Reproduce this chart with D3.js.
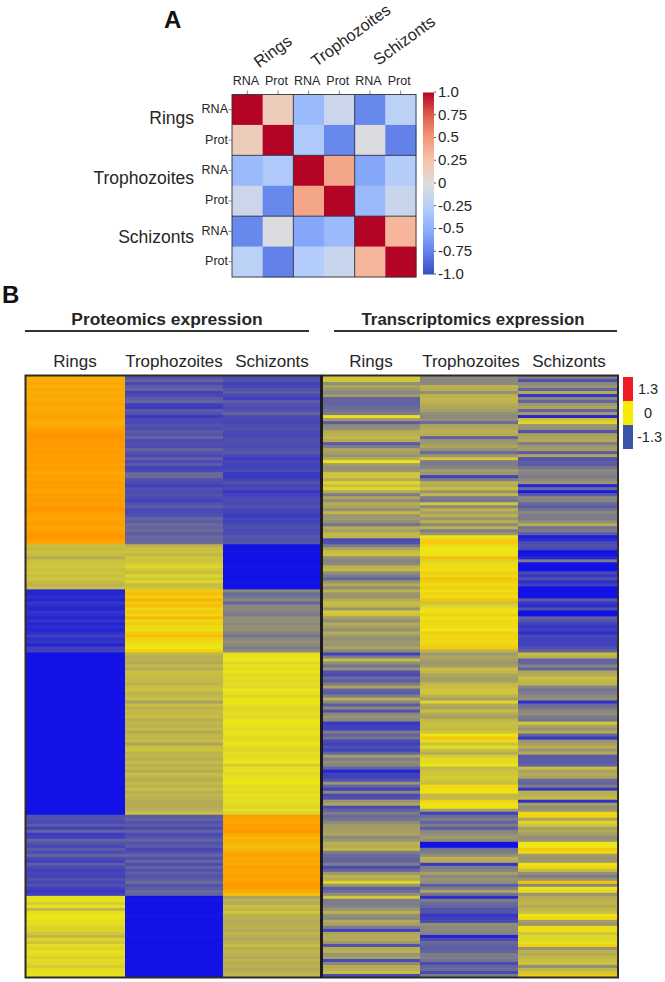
<!DOCTYPE html>
<html><head><meta charset="utf-8">
<script src="https://cdn.jsdelivr.net/npm/d3@7"></script>
<style>html,body{margin:0;padding:0;background:#fff}svg{display:block}text{font-family:"Liberation Sans",Arial,sans-serif;fill:#262626}</style>
</head><body><svg id="c" width="665" height="982"></svg>
<script>
// Panel A
const omics = ["RNA","Prot","RNA","Prot","RNA","Prot"];
const stages = ["Rings","Trophozoites","Schizonts"];
const corr = [
 [1,.17,-.42,-.12,-.72,-.22],
 [.17,1,-.3,-.72,-.02,-.75],
 [-.42,-.3,1,.42,-.55,-.28],
 [-.12,-.72,.42,1,-.42,-.14],
 [-.72,-.02,-.55,-.42,1,.33],
 [-.22,-.75,-.28,-.14,.33,1]];
const corrTicks = [1,.75,.5,.25,0,-.25,-.5,-.75,-1];
const corrTickLabels = ["1.0","0.75","0.5","0.25","0","-0.25","-0.5","-0.75","-1.0"];
const coolStops = [-1,-.75,-.5,-.25,0,.25,.5,.75,1];
const coolColors = ["#3b4cc0","#6282ea","#8db0fe","#b8d0f9","#dddcdc","#f5c4ac","#f4987a","#dc5e4b","#b40426"];

// Panel B: scaled expression, one list per sample column, top row to bottom row
const protRings = [
 .42,.42,.45,.4,.45,.42,.45,.42,.45,.48,.42,.45,.48,.5,.45,.42,.45,.48,.55,.58,.58,.55,.52,.55,.5,.55,.5,.52,.55,.48,.55,.5,.45,.52,.48,.55,.5,.52,.45,.55,.5,.55,.5,.55,.58,.52,.5,.45,.52,.55,.45,.52,.55,.58,.52,.45,
 -.15,-.2,-.12,-.15,-.28,-.12,-.12,-.1,-.15,-.1,-.15,-.1,-.18,-.25,-.15,
 -1.2,-1.2,-1.15,-1.2,-1.1,-1.15,-1.2,-1.12,-1.15,-1.2,-1.12,-1.2,-1.15,-1.2,-1.15,-1.05,-1.15,-1.1,-1.2,-1.05,-1.05,
 -1.3,-1.3,-1.3,-1.3,-1.3,-1.3,-1.3,-1.3,-1.3,-1.3,-1.3,-1.3,-1.3,-1.3,-1.3,-1.3,-1.3,-1.3,-1.3,-1.3,-1.3,-1.3,-1.3,-1.3,-1.3,-1.3,-1.3,-1.3,-1.3,-1.3,-1.3,-1.3,-1.3,-1.3,-1.3,-1.3,-1.3,-1.3,-1.3,-1.3,-1.3,-1.3,-1.3,-1.3,-1.3,-1.3,-1.3,-1.3,-1.3,-1.3,-1.3,-1.3,-1.3,-1.3,
 -.95,-.95,-1,-.9,-1.05,-.85,-1.08,-1.05,-.85,-.95,-1.02,-.9,-.98,-.85,-1,-1.05,-.9,-1,-1.05,-1.02,-1.05,-.95,-1.02,-.95,-1.05,-1.1,-1.05,
 -.02,-.02,-.08,-.02,-.2,-.02,0,0,-.03,-.03,-.06,-.06,-.1,-.2,-.05,-.1,-.03,-.06,-.02,-.03,-.06,-.03,-.04,-.08,-.03,-.02,-.02];
const protTroph = [
 -.95,-.85,-1,-.9,-.85,-1.05,-1,-.9,-.85,-1.05,-1.08,-.9,-.95,-1.08,-1,-1,-.95,-1,-.9,-.95,-.85,-1,-.95,-1,-.85,-.95,-1,-.88,-1,-.9,-1.05,-1,-.8,-.8,-.95,-1,-1.05,-.95,-1,-.95,-1,-1.05,-.95,-.9,-1,-1,-.95,-.85,-.9,-.8,-.85,-.8,-.9,-.8,-.85,-.8,
 -.25,-.15,-.12,-.2,-.1,-.12,-.08,-.05,-.1,-.15,-.05,-.1,-.05,-.18,-.12,
 .22,.3,.18,.38,.2,.3,.12,.22,.12,.32,.12,.18,.1,.05,.2,.3,.15,.08,.02,.02,.15,
 -.2,-.28,-.25,-.32,-.18,-.3,-.15,-.15,-.2,-.18,-.25,-.15,-.12,-.25,-.2,-.15,-.38,-.15,-.25,-.18,-.2,-.15,-.28,-.2,-.25,-.18,-.3,-.2,-.22,-.18,-.35,-.15,-.12,-.25,-.2,-.28,-.18,-.25,-.2,-.3,-.15,-.22,-.28,-.18,-.25,-.15,-.28,-.2,-.25,-.3,-.28,-.3,-.25,-.15,
 -.9,-.85,-.95,-.9,-1,-.85,-1,-.95,-.85,-.95,-.9,-1.02,-.95,-.85,-.95,-.85,-.98,-.85,-.95,-.88,-.95,-.9,-.8,-.95,-.9,-.8,-.85,
 -1.3,-1.28,-1.3,-1.3,-1.3,-1.3,-1.28,-1.3,-1.3,-1.3,-1.3,-1.3,-1.3,-1.28,-1.3,-1.3,-1.3,-1.3,-1.3,-1.3,-1.3,-1.3,-1.3,-1.3,-1.3,-1.3,-1.3];
const protSchiz = [
 -1,-.95,-1.05,-1.02,-.95,-.9,-1,-1.05,-.9,-.95,-1,-.95,-.85,-1,-1,-1.02,-.98,-.95,-1,-1.02,-1,-.95,-.98,-1,-.95,-.92,-1,-1.08,-1.02,-1.05,-1.05,-1,-1.08,-1.1,-1.05,-.95,-1.02,-1,-1.1,-1.05,-1,-.98,-1,-.95,-1.02,-1.05,-1.08,-1.02,-1.05,-1,-.95,-1,-.98,-.92,-.95,-.92,
 -1.3,-1.3,-1.28,-1.3,-1.3,-1.3,-1.3,-1.28,-1.3,-1.3,-1.3,-1.3,-1.28,-1.3,-1.3,
 -.6,-.8,-.75,-.6,-.85,-.6,-.6,-.65,-.72,-.55,-.55,-.6,-.55,-.55,-.65,-.75,-.6,-.55,-.6,-.7,-.6,
 -.03,-.02,0,-.05,0,-.03,0,-.04,-.02,-.04,-.02,-.05,0,-.02,-.05,.02,.02,-.02,-.05,-.03,-.02,-.05,0,0,-.02,-.03,0,-.02,-.04,-.02,0,-.03,-.05,-.02,-.04,-.02,0,-.08,-.03,-.02,-.04,-.02,0,0,-.03,-.02,-.04,-.02,-.03,-.02,-.04,-.05,-.02,-.06,
 .5,.52,.45,.55,.5,.58,.45,.35,.42,.35,.3,.35,.42,.52,.42,.45,.42,.5,.46,.48,.5,.45,.52,.55,.5,.42,.28,
 -.35,-.25,-.3,-.15,-.2,-.1,-.25,-.25,-.3,-.28,-.25,-.3,-.22,-.28,-.32,-.25,-.15,-.28,-.22,-.25,-.3,-.22,-.3,-.25,-.32,-.25,-.22];
const rnaRings = [
 -.1,-.1,-.55,-.35,-.5,-.6,-.45,-.85,-.85,-.85,
 -.8,-.75,-.7,.05,-.45,-.9,-.6,-.55,-.3,-.25,
 -.2,-.3,-.9,-.7,-.35,-.4,-.5,-.3,.02,-.45,
 -.55,-.5,-.1,-.1,-.3,-.05,-.15,-.05,-.3,-.7,
 -.35,-.55,-.3,-.35,-.55,-.2,-.5,-.45,-.55,-.75,
 -.3,-.4,-.2,-.2,-1,-.95,-.7,-.35,-.15,-.12,
 -.55,-.65,-.6,-.25,-.2,-.55,-.7,-.85,-.5,-.3,
 -.55,-.25,-.5,-.5,-.3,-.15,-.2,-.5,-.08,-.12,
 -.4,-.55,-.3,-.4,-.55,-.3,-.45,-.55,-.45,-.5,
 -.35,-.6,-1.05,-.7,-.15,-.55,-.75,-.55,-.95,-1,
 -.8,-.9,-.7,-.35,-.85,-.9,-.7,-.25,-.6,-.9,
 -.6,-.95,-.6,-.5,-.6,-1.1,-1.05,-1.05,-.7,-.85,
 -.75,-1,-1.05,-.95,-1.05,-.85,-.4,-.7,-.55,-.65,
 -.85,-1.2,-1.05,-1.05,-.95,-.5,-.85,-1.05,-.6,-1,
 -.95,-.5,-.35,-1,-.85,-.7,-.8,-.75,-.6,-.45,
 -.4,-.4,-.35,-.6,-.5,-.25,-.3,-.2,-.7,-.8,
 -.85,-.85,-.7,-1,-.85,-.45,-.25,-.3,-.05,-.5,
 -.9,-.8,-.55,-.1,-.7,-.7,-.65,-.5,-.25,-.55,
 -.6,-.3,-.4,-.7,-1.05,-.35,-.3,-.3,-.45,-.95,
 -.3,-.25,-.5,-.4,-1,-.6,-.3,-.25,-.15,-1];
const rnaTroph = [
 -.6,-.6,-.6,-.25,-.28,-.55,-.25,-.2,-.22,-.3,
 -.35,-.4,-.55,-.6,-.55,-.8,-.35,-.3,-.25,-.3,
 -.85,-.5,-.45,-.35,-.55,-.8,-.5,-.1,-.7,-.7,
 -.65,-.4,-.5,-1.05,-.7,-.25,-.3,-.15,-.5,-.2,
 -.7,-.75,-.1,-.6,-.25,-.4,-.25,-.5,-.25,-.6,
 -.25,-.7,-.5,.02,.18,.2,.08,0,.02,.03,
 .3,-.06,.08,.1,.04,.16,.1,.24,.17,.08,
 .17,.04,.14,.08,.26,-.12,-.06,.04,.02,.17,
 .02,.1,.1,.08,.02,.17,.1,.12,.08,.14,
 .2,-.25,-.45,-.35,-.4,-.5,-.4,-.15,-.2,-.35,
 -.4,-.4,-.2,-.15,-.1,-.1,-.25,-.4,-.05,-.3,
 -.35,-.15,-.3,-.4,-.2,-.15,-.15,-.18,-.1,.02,
 .22,-.03,-.12,-.03,-.15,-.3,-.08,-.03,-.03,0,
 -.2,-.12,-.1,-.08,-.1,-.15,.08,.06,.04,-.2,
 -.2,.14,.02,.02,-.4,-1.05,-.8,-.7,-.85,-.7,
 -.9,-.65,-.55,-.45,-.55,-1.3,-1.3,-.75,-.7,-.55,
 -.25,-.3,-1.1,-.7,-.65,-.4,-.6,-.5,-.55,-.9,
 -.7,-.35,-.75,-1.15,-.7,-.8,-.85,-.95,-.95,-1.1,
 -1.05,-1,-.55,-.6,-.6,-.65,-1.2,-1,-.8,-.85,
 -.9,-.85,-.7,-.7,-.75,-1,-.85,-.8,-1,-.7];
const rnaSchiz = [
 -.7,-.95,-.6,-.5,-.85,-.3,-1.1,-.6,-.85,-.45,
 -.35,-.85,-.45,-1.2,-.1,-.05,-.5,-.55,-.95,-.4,
 -.35,-.3,-.7,-.45,-.4,-.9,-.35,-.95,-.9,-.9,
 -.75,-.6,-.65,-.7,-.6,-.5,-1.2,-.8,-1.25,-.9,
 -.6,-.65,-.8,-.9,-.75,-.6,-.7,-.7,-.55,-.3,
 -.75,-.7,-.9,-1.25,-1.15,-1,-.95,-1,-1.3,-1.28,
 -1.2,-.7,-1.3,-1.3,-1.3,-1,-1.1,-.95,-1.15,-1.05,
 -1.3,-1.3,-1.3,-1.3,-.9,-1.1,-1.15,-.95,-1.3,-1.3,
 -.85,-.95,-1.05,-1.1,-1.05,-1.15,-1,-1.05,-1.05,-1.05,
 -.95,-.85,-.15,-.25,-.85,-.85,-.65,-.85,-.35,-.3,
 -.15,-.2,-.25,-.65,-.75,-.7,-.6,-.55,-1.15,-.8,
 -.75,-.6,-.55,-.7,-.75,-.1,-.35,-.5,-.3,-.85,
 -1.1,-.5,-.4,-.25,-.5,-.3,-.9,-.9,-.9,-.85,
 -.15,-.4,-.3,-.35,-.8,-.85,-.7,-1.1,-.25,-.25,
 -.15,-1.15,-.4,-.55,-.5,.1,.15,-.35,-.05,-.1,
 -.4,-.3,-.4,-.55,-.5,0,0,.2,.1,-.45,
 -.5,-.45,.05,.12,-.15,-.55,-.7,-.5,.25,-.6,
 0,-.05,-.5,-.3,-.25,-.2,-.3,-.2,-.15,.03,
 .1,-.4,-.5,.05,.05,-.1,-.05,-.05,-.02,.15,
 -.5,-.25,-.3,-.2,-.15,-.12,-.55,-.2,-.1,.2];
const sampleColumns = [protRings,protTroph,protSchiz,rnaRings,rnaTroph,rnaSchiz];
const heatStops = [-1.3,-1,-.65,-.3,-.1,0,.55,1.3];
const heatColors = ["#1212e6","#4a4ab4","#848484","#b4aa58","#cfc63a","#ece618","#ff9a00","#f01818"];
const legendLevels = [1.3,0,-1.3];
const legendLabels = ["1.3","0","-1.3"];
const legendColors = ["#ee1c25","#f5ec00","#3b55a5"];
const panelTitles = ["Proteomics expression","Transcriptomics expression"];

const svg = d3.select("#c");
const T = (x,y,s,size,anchor,weight,extra)=>{
  const t = svg.append("text").attr("x",x).attr("y",y).text(s).attr("font-size",size)
    .attr("text-anchor",anchor||"start").attr("font-weight",weight||"normal");
  if(extra) t.attr("transform",extra);
  return t;
};

// ---------- A ----------
T(164,28,"A",24,"start","bold").style("fill","#111");
const coolColor = d3.scaleLinear().domain(coolStops).range(coolColors);
const mx = d3.scaleBand().domain(d3.range(6)).range([232,416]);
const my = d3.scaleBand().domain(d3.range(6)).range([94.5,277]);
const gA = svg.append("g");
corr.forEach((row,i)=>{
  gA.selectAll(null).data(row).join("rect")
    .attr("x",(d,j)=>mx(j)).attr("y",my(i)).attr("width",mx.bandwidth()+.4).attr("height",my.bandwidth()+.4)
    .attr("fill",d=>coolColor(d));
});
[2,4].forEach(k=>{
  gA.append("line").attr("x1",mx(k)).attr("x2",mx(k)).attr("y1",94.5).attr("y2",277).attr("stroke","#2b3040").attr("stroke-width",.9);
  gA.append("line").attr("y1",my(k)).attr("y2",my(k)).attr("x1",232).attr("x2",416).attr("stroke","#2b3040").attr("stroke-width",.9);
});
gA.append("rect").attr("x",232).attr("y",94.5).attr("width",184).attr("height",182.5).attr("fill","none").attr("stroke","#333").attr("stroke-width",.9);
omics.forEach((s,i)=>{
  const cx = mx(i)+mx.bandwidth()/2, cy = my(i)+my.bandwidth()/2;
  gA.append("line").attr("x1",cx).attr("x2",cx).attr("y1",90.5).attr("y2",94).attr("stroke","#666").attr("stroke-width",.8);
  gA.append("line").attr("x1",228.5).attr("x2",232).attr("y1",cy).attr("y2",cy).attr("stroke","#666").attr("stroke-width",.8);
  T(cx-1.5,85,s,12.5,"middle");
  T(228,cy+3.5,s,12.5,"end");
});
T(272.5,57,stages[0],16.5,"middle",null,"rotate(-36 272.5 51)");
T(350.5,41,stages[1],16.3,"middle",null,"rotate(-36 350.5 35)");
T(404,46,stages[2],16.5,"middle",null,"rotate(-36 404 40)");
T(194,124,stages[0],17.5,"end");
T(194,184,stages[1],17.5,"end");
T(194,243,stages[2],17.5,"end");
const barY = d3.scaleLinear().domain([1,-1]).range([91.5,273.5]);
const grad = svg.append("defs").append("linearGradient").attr("id","cool").attr("x1",0).attr("x2",0).attr("y1",0).attr("y2",1);
grad.selectAll("stop").data(coolStops.slice().reverse()).join("stop")
  .attr("offset",d=>(1-d)/2).attr("stop-color",d=>coolColor(d));
svg.append("rect").attr("x",423).attr("y",92.5).attr("width",11).attr("height",182).attr("fill","url(#cool)");
const barAxis = svg.append("g").attr("transform","translate(434,0)")
  .call(d3.axisRight(barY).tickValues(corrTicks).tickFormat((d,i)=>corrTickLabels[i]).tickSize(2).tickPadding(2));
barAxis.select(".domain").remove();
barAxis.selectAll("line").attr("stroke","#555");
barAxis.selectAll("text").attr("font-size",15).style("font-family",'"Liberation Sans"');

// ---------- B ----------
T(2,303,"B",24,"start","bold").style("fill","#111");
T(167,324.5,panelTitles[0],17.4,"middle","bold");
T(473,324.5,panelTitles[1],16.8,"middle","bold");
svg.append("line").attr("x1",25).attr("x2",309).attr("y1",331).attr("y2",331).attr("stroke","#333").attr("stroke-width",2);
svg.append("line").attr("x1",334).attr("x2",617).attr("y1",331).attr("y2",331).attr("stroke","#333").attr("stroke-width",2);
const colCenters = [75,174,272,371,471,569];
colCenters.forEach((c,i)=>T(c,367,stages[i%3],17,"middle"));

const heat = d3.scaleLinear().domain(heatStops).range(heatColors);
const colEdges = [[26,125],[125,223],[223,320],[323,420],[420,518],[518,617]];
const gL = svg.append("g").style("filter","blur(0.4px)");
const gR = svg.append("g").style("filter","blur(0.7px)");
sampleColumns.forEach((vals,c)=>{
  const y = d3.scaleBand().domain(d3.range(vals.length)).range([376,977]);
  (c<3?gL:gR).append("g").selectAll("rect").data(vals).join("rect")
    .attr("x",colEdges[c][0]).attr("width",colEdges[c][1]-colEdges[c][0])
    .attr("y",(d,i)=>y(i)).attr("height",y.bandwidth()+1)
    .attr("fill",d=>heat(d));
});
svg.append("rect").attr("x",25.5).attr("y",375.5).attr("width",592.5).attr("height",602).attr("fill","none").attr("stroke","#2f2a28").attr("stroke-width",2);
svg.append("line").attr("x1",321.5).attr("x2",321.5).attr("y1",375).attr("y2",978).attr("stroke","#1e1c22").attr("stroke-width",3);

const legY = d3.scaleBand().domain(legendLevels).range([377,449]);
svg.selectAll(".leg").data(legendLevels).join("rect").attr("class","leg")
  .attr("x",623).attr("width",10).attr("y",d=>legY(d)).attr("height",legY.bandwidth())
  .attr("fill",(d,i)=>legendColors[i]);
legendLevels.forEach((d,i)=>T(i==1?648:(i==0?638:637),legY(d)+legY.bandwidth()/2+5,legendLabels[i],14.5,i==1?"middle":"start"));
</script></body></html>
